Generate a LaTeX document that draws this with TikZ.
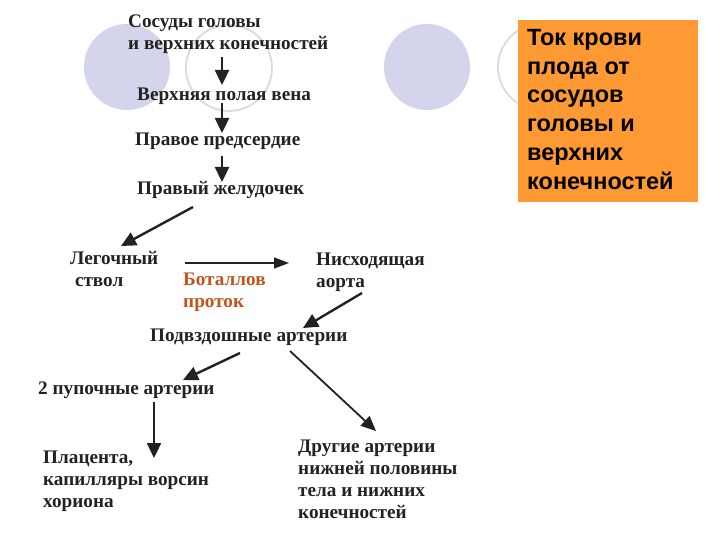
\documentclass[tikz,border=0pt]{standalone}
\usepackage{fontspec}
\setmainfont{Liberation Serif}
\newfontfamily\boxfont{Liberation Sans}
\usetikzlibrary{arrows.meta}
\definecolor{lav}{RGB}{212,212,236}
\definecolor{ring}{RGB}{218,218,226}
\definecolor{boxor}{RGB}{255,153,51}
\definecolor{botal}{RGB}{192,86,30}
\definecolor{ink}{RGB}{34,34,34}
\begin{document}
\begin{tikzpicture}[x=1pt,y=-1pt,
  lbl/.style={anchor=west,inner sep=0pt,align=left,text=ink,font=\fontsize{19.2}{22}\selectfont\bfseries},
  arr/.style={draw=ink,line width=2.4pt,-{Triangle[length=15pt,width=14pt]}},
  thinarr/.style={draw=ink,line width=1.3pt,-{Triangle[length=15pt,width=11pt]}},
  dot/.style={circle,fill=lav,minimum size=86pt,inner sep=0pt},
  ringc/.style={circle,draw=ring,line width=1.8pt,minimum size=86pt,inner sep=0pt}]
\useasboundingbox (0,0) rectangle (720,540);
\fill[white] (0,0) rectangle (720,540);
% decorative circles
\node[dot] (c1) at (127,67) {};
\node[ringc] (c2) at (229,68) {};
\node[dot] (c3) at (427,67) {};
\node[ringc] (c4) at (541,67) {};
% orange box
\node[fill=boxor,anchor=north west,minimum width=180pt,minimum height=182pt,inner sep=0pt] (box) at (518,20) {};
\node[anchor=north west,inner sep=0pt,align=left,font=\boxfont\fontsize{23.5}{28.8}\selectfont\bfseries,text=black] (boxt) at (527,29)
 {Ток крови\\плода от\\сосудов\\головы и\\верхних\\конечностей};
% labels
\node[lbl] (n1) at (128,34.5) {Сосуды головы\\и верхних конечностей};
\node[lbl] (n2) at (137,96) {Верхняя полая вена};
\node[lbl] (n3) at (135,141) {Правое предсердие};
\node[lbl] (n4) at (137,190) {Правый желудочек};
\node[lbl] (n5) at (70,269) {Легочный\\\ ствол};
\node[lbl,text=botal] (n6) at (183,292) {Боталлов\\проток};
\node[lbl] (n7) at (316,272) {Нисходящая\\аорта};
\node[lbl] (n8) at (150,337) {Подвздошные артерии};
\node[lbl] (n9) at (38,390) {2 пупочные артерии};
\node[lbl] (n10) at (43,481) {Плацента,\\капилляры ворсин\\хориона};
\node[lbl] (n11) at (298,479.5) {Другие артерии\\нижней половины\\тела и нижних\\конечностей};
% connector end points
\coordinate (a1s) at (222,57);  \coordinate (a1e) at (222,85);
\coordinate (a2s) at (222,103); \coordinate (a2e) at (222,133);
\coordinate (a3s) at (222,156); \coordinate (a3e) at (222,182);
\coordinate (a4s) at (193,207); \coordinate (a4e) at (121,246);
\coordinate (a5s) at (185,263); \coordinate (a5e) at (289,263);
\coordinate (a6s) at (362,293); \coordinate (a6e) at (303,328);
\coordinate (a7s) at (240,353); \coordinate (a7e) at (183,380);
\coordinate (a8s) at (290,351); \coordinate (a8e) at (376,431);
\coordinate (a9s) at (154,402); \coordinate (a9e) at (154,458);
\draw[arr] (a1s) -- (a1e);
\draw[arr] (a2s) -- (a2e);
\draw[arr] (a3s) -- (a3e);
\draw[arr] (a4s) -- (a4e);
\draw[thinarr] (a5s) -- (a5e);
\draw[arr] (a6s) -- (a6e);
\draw[arr] (a7s) -- (a7e);
\draw[thinarr,line width=1.8pt,-{Triangle[length=15pt,width=13pt]}] (a8s) -- (a8e);
\draw[arr] (a9s) -- (a9e);
\end{tikzpicture}
\end{document}
